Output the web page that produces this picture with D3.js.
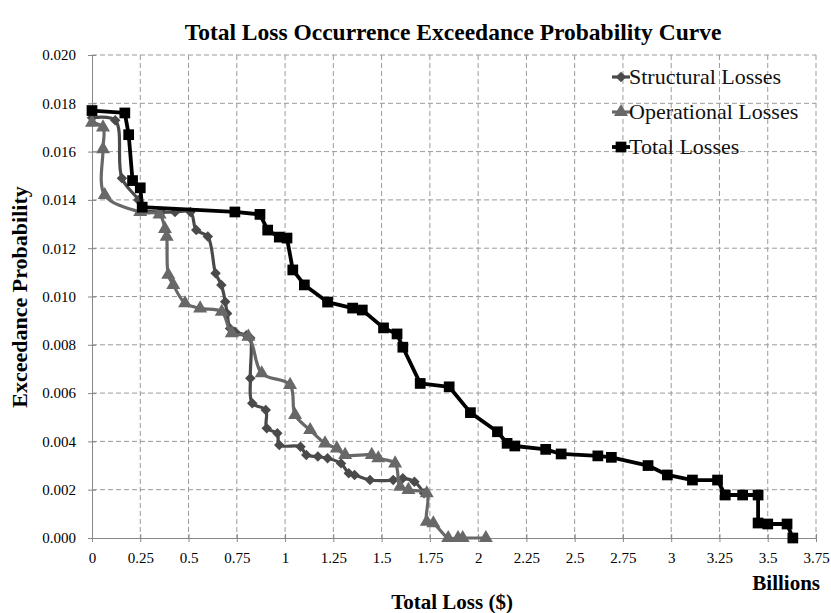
<!DOCTYPE html>
<html>
<head>
<meta charset="utf-8">
<script src="https://cdn.jsdelivr.net/npm/d3@7"></script>
<style>
  body { margin: 0; background: #fff; }
  text { font-family: "Liberation Serif", "Times New Roman", serif; }
</style>
</head>
<body>
<script>
// Values (loss in billions, exceedance probability)
var structuralLoss = [0, 0.12, 0.155, 0.24, 0.26, 0.36, 0.43, 0.51, 0.54, 0.60, 0.64, 0.67, 0.69, 0.70, 0.715, 0.74, 0.80, 0.82, 0.82, 0.83, 0.90, 0.905, 0.96, 0.97, 1.08, 1.11, 1.17, 1.22, 1.29, 1.33, 1.36, 1.44, 1.56, 1.61, 1.67, 1.72];
var structuralProb = [0.0174, 0.0173, 0.0149, 0.0140, 0.0136, 0.0135, 0.0135, 0.0135, 0.01275, 0.01248, 0.01096, 0.01048, 0.00978, 0.0093, 0.00868, 0.00854, 0.0084, 0.00828, 0.00661, 0.00558, 0.0053, 0.00454, 0.00434, 0.00385, 0.00378, 0.00344, 0.00337, 0.0033, 0.00309, 0.00268, 0.00261, 0.0024, 0.0024, 0.00247, 0.00233, 0.00185];

var operationalLoss = [0, 0.057, 0.057, 0.066, 0.25, 0.35, 0.378, 0.387, 0.395, 0.421, 0.482, 0.56, 0.672, 0.724, 0.81, 0.879, 1.026, 1.052, 1.13, 1.207, 1.268, 1.311, 1.449, 1.483, 1.57, 1.596, 1.639, 1.734, 1.734, 1.768, 1.845, 1.896, 1.92, 2.04];
var operationalProb = [0.0172, 0.0170, 0.0161, 0.0142, 0.0135, 0.0134, 0.0128, 0.01248, 0.0109, 0.01048, 0.00972, 0.00951, 0.00937, 0.00848, 0.00834, 0.00682, 0.00634, 0.00509, 0.00447, 0.00392, 0.00371, 0.00344, 0.00344, 0.0033, 0.00309, 0.00212, 0.00199, 0.00185, 0.00067, 0.00061, 0, 0, 0, 0];

var totalLoss = [0, 0.17, 0.19, 0.21, 0.25, 0.26, 0.74, 0.87, 0.91, 0.97, 1.01, 1.04, 1.10, 1.22, 1.35, 1.40, 1.51, 1.58, 1.61, 1.70, 1.85, 1.96, 2.10, 2.15, 2.19, 2.35, 2.43, 2.62, 2.69, 2.88, 2.98, 3.11, 3.24, 3.28, 3.37, 3.45, 3.45, 3.50, 3.60, 3.63];
var totalProb = [0.0177, 0.0176, 0.0167, 0.0148, 0.0145, 0.0137, 0.0135, 0.0134, 0.01275, 0.01246, 0.01242, 0.0111, 0.01048, 0.00977, 0.00952, 0.00944, 0.0087, 0.00845, 0.0079, 0.0064, 0.00626, 0.00519, 0.0044, 0.00392, 0.00381, 0.00367, 0.00348, 0.0034, 0.00334, 0.0030, 0.00261, 0.0024, 0.0024, 0.00178, 0.00178, 0.00178, 0.00062, 0.00058, 0.00058, 0.0];

var xTicks = [0, 0.25, 0.5, 0.75, 1, 1.25, 1.5, 1.75, 2, 2.25, 2.5, 2.75, 3, 3.25, 3.5, 3.75];
var yTicks = [0, 0.002, 0.004, 0.006, 0.008, 0.010, 0.012, 0.014, 0.016, 0.018, 0.020];
var seriesNames = ["Structural Losses", "Operational Losses", "Total Losses"];

// Set the dimensions and margins of the graph
var W = 831, H = 613;
var margin = {top: 55, right: 15, bottom: 75, left: 92},
    width = W - margin.left - margin.right,
    height = H - margin.top - margin.bottom;

var svg = d3.select("body")
  .append("svg")
    .attr("width", W)
    .attr("height", H);

var g = svg.append("g")
    .attr("transform", "translate(" + margin.left + "," + margin.top + ")");

var x = d3.scaleLinear().domain([0, 3.75]).range([0, width]);
var y = d3.scaleLinear().domain([0, 0.02]).range([height, 0]);

// Dashed grid
g.append("g").selectAll("line")
  .data(xTicks.slice(1))
  .enter().append("line")
    .attr("x1", function(d) { return x(d); })
    .attr("x2", function(d) { return x(d); })
    .attr("y1", 0).attr("y2", height)
    .attr("stroke", "#9a9a9a").attr("stroke-dasharray", "5,3");

g.append("g").selectAll("line")
  .data(yTicks.slice(1))
  .enter().append("line")
    .attr("y1", function(d) { return y(d); })
    .attr("y2", function(d) { return y(d); })
    .attr("x1", 0).attr("x2", width)
    .attr("stroke", "#9a9a9a").attr("stroke-dasharray", "5,3");

// Axes (ticks crossing the axis line)
var xAxis = g.append("g")
  .attr("transform", "translate(0," + height + ")")
  .call(d3.axisBottom(x).tickValues(xTicks).tickSize(4).tickPadding(10)
    .tickFormat(function(d) { return String(d); }));
xAxis.selectAll(".tick line").attr("y1", -4).attr("stroke", "#888");
xAxis.select(".domain").attr("stroke", "#888");
xAxis.selectAll("text").attr("font-size", 15).attr("fill", "#000")
  .style("font-family", "Liberation Serif");

var yAxis = g.append("g")
  .call(d3.axisLeft(y).tickValues(yTicks).tickSize(4).tickPadding(12)
    .tickFormat(d3.format(".3f")));
yAxis.selectAll(".tick line").attr("x1", 4).attr("stroke", "#888");
yAxis.select(".domain").attr("stroke", "#888");
yAxis.selectAll("text").attr("font-size", 15).attr("fill", "#000")
  .style("font-family", "Liberation Serif");

// Series
function zip(a, b) { return a.map(function(v, i) { return [v, b[i]]; }); }

var series = [
  {name: seriesNames[0], pts: zip(structuralLoss, structuralProb), color: "#4a4a4a",
   sym: d3.symbolSquare, size: 55, rot: 45, width: 3.2, curve: d3.curveCatmullRom.alpha(0.5)},
  {name: seriesNames[1], pts: zip(operationalLoss, operationalProb), color: "#686868",
   sym: d3.symbolTriangle, size: 85, rot: 0, width: 3.2, curve: d3.curveCatmullRom.alpha(0.5)},
  {name: seriesNames[2], pts: zip(totalLoss, totalProb), color: "#000",
   sym: d3.symbolSquare, size: 115, rot: 0, width: 3.8, curve: d3.curveLinear}
];

var line = d3.line()
  .x(function(d) { return x(d[0]); })
  .y(function(d) { return y(d[1]); });

series.forEach(function(s) {
  g.append("path")
    .datum(s.pts)
    .attr("fill", "none")
    .attr("stroke", s.color)
    .attr("stroke-width", s.width)
    .attr("stroke-linejoin", "round")
    .attr("d", line.curve(s.curve));

  g.append("g").selectAll("path")
    .data(s.pts)
    .enter().append("path")
      .attr("d", d3.symbol().type(s.sym).size(s.size))
      .attr("fill", s.color)
      .attr("transform", function(d) {
        return "translate(" + x(d[0]) + "," + y(d[1]) + ") rotate(" + s.rot + ")";
      });
});

// Legend
var legend = svg.append("g");
series.forEach(function(s, i) {
  var ly = 77 + i * 35;
  legend.append("line")
    .attr("x1", 612).attr("x2", 630).attr("y1", ly).attr("y2", ly)
    .attr("stroke", s.color).attr("stroke-width", s.width);
  legend.append("path")
    .attr("d", d3.symbol().type(s.sym).size(s.size))
    .attr("fill", s.color)
    .attr("transform", "translate(621," + ly + ") rotate(" + s.rot + ")");
  legend.append("text")
    .attr("x", 629).attr("y", ly + 7)
    .attr("font-size", 22).attr("fill", "#111")
    .text(s.name);
});

// Titles
svg.append("text")
  .attr("x", 453).attr("y", 40)
  .attr("text-anchor", "middle")
  .attr("font-size", 23.5).attr("font-weight", "bold")
  .text("Total Loss Occurrence Exceedance Probability Curve");

svg.append("text")
  .attr("transform", "translate(27,297) rotate(-90)")
  .attr("text-anchor", "middle")
  .attr("font-size", 22).attr("font-weight", "bold")
  .text("Exceedance Probability");

svg.append("text")
  .attr("x", 452).attr("y", 609)
  .attr("text-anchor", "middle")
  .attr("font-size", 21).attr("font-weight", "bold")
  .text("Total Loss ($)");

svg.append("text")
  .attr("x", 820).attr("y", 590)
  .attr("text-anchor", "end")
  .attr("font-size", 21).attr("font-weight", "bold")
  .text("Billions");
</script>
</body>
</html>
